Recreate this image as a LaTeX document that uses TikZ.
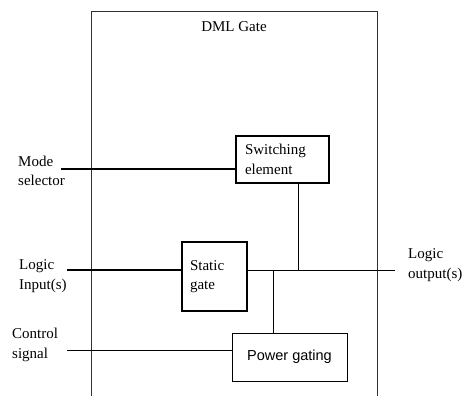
\documentclass[tikz,border=0pt]{standalone}
\usepackage{fontspec}
\setmainfont{Liberation Serif}
\newfontfamily\sansf{Liberation Sans}
\begin{document}
\begin{tikzpicture}[x=1pt,y=-1pt,
    txt/.style={font=\fontsize{15}{19.5}\selectfont,align=left,inner sep=0pt},
    box/.style={draw,line width=1.3pt,font=\fontsize{15}{19.5}\selectfont,align=left},
    wire/.style={line width=0.8pt}]
        \useasboundingbox (0,0) rectangle (464,396);
        \draw[line width=0.8pt,black!80] (91,396) -- (91,11) -- (377,11) -- (377,396);
        \node[txt] (title) at (234,27) {DML Gate};
        \node[box,minimum width=93,minimum height=47,text width=75] (sw) at (282.5,159.5) {Switching\\element};
        \node[box,minimum width=65,minimum height=69,text width=49] (sg) at (214.5,276.5) {Static\\gate\\[4pt]};
        \node[box,line width=0.9pt,minimum width=115,minimum height=48,font=\sansf\fontsize{14.5}{19}\selectfont] (pg) at (289.5,357) {Power gating};
        \node[txt,anchor=west] (mode) at (18,171) {Mode\\selector};
        \node[txt,anchor=west] (login) at (19,276) {Logic\\Input(s)};
        \node[txt,anchor=west] (ctrl) at (12,345) {Control\\signal};
        \node[txt,anchor=west] (logout) at (408,265) {Logic\\output(s)};
        \coordinate (mode in) at (61,169);
        \coordinate (logic in) at (67,270);
        \coordinate (ctrl in) at (67,350);
        \coordinate (logic out) at (395,270);
        \coordinate (j1) at (298,270);
        \coordinate (j2) at (273,270);
        \draw[wire,line width=1.2pt] (mode in) -- (mode in -| sw.west);
        \draw[wire,line width=1.2pt] (logic in) -- (logic in -| sg.west);
        \draw[wire] (ctrl in) -- (ctrl in -| pg.west);
        \draw[wire] (logic out -| sg.east) -- (logic out);
        \draw[wire] (j1 |- sw.south) -- (j1);
        \draw[wire] (j2) -- (j2 |- pg.north);
\end{tikzpicture}
\end{document}
